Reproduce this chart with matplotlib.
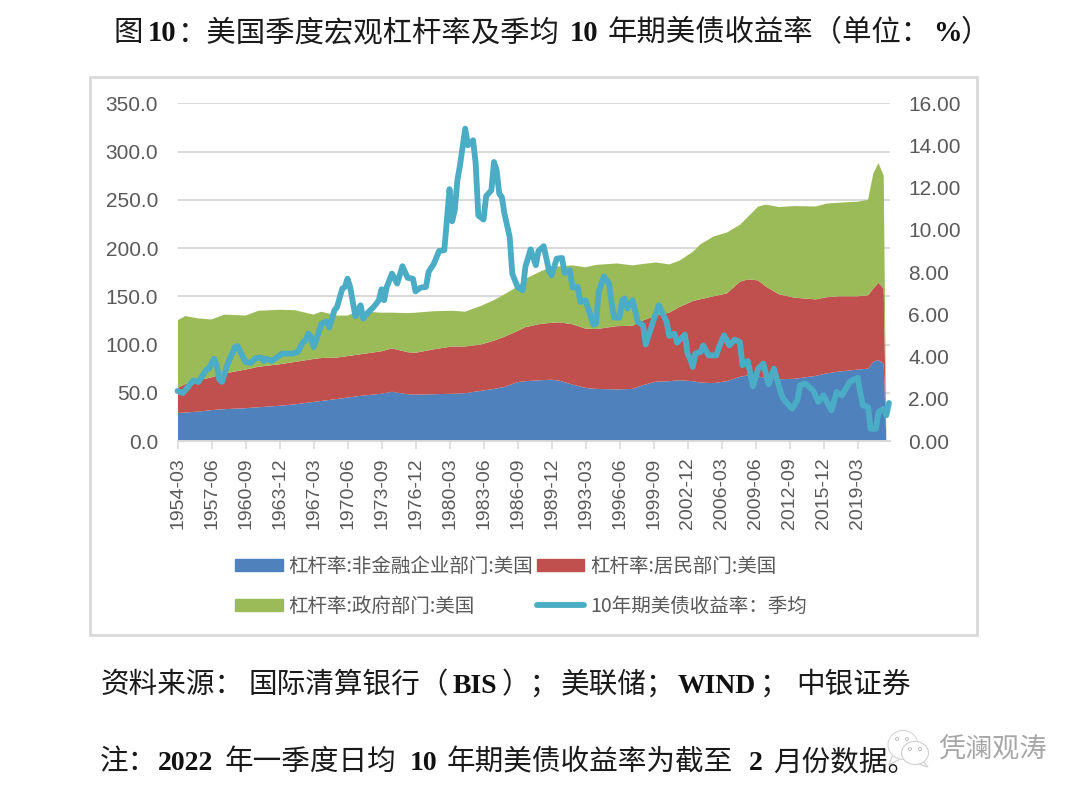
import matplotlib
matplotlib.use('Agg')
import matplotlib.pyplot as plt
from matplotlib.lines import Line2D
from matplotlib.patches import Ellipse, Patch, Polygon, Rectangle

CJK = 'Noto Sans CJK SC'
LATIN = 'Liberation Serif'
TICK_FONT = 'Liberation Sans'
GREY = '#595959'
LIGHT = '#d9d9d9'

# first and last tick plus every 13 quarters in between
tick_labels = ['1954-03', '1957-06', '1960-09', '1963-12', '1967-03', '1970-06', '1973-09',
               '1976-12', '1980-03', '1983-06', '1986-09', '1989-12', '1993-03', '1996-06',
               '1999-09', '2002-12', '2006-03', '2009-06', '2012-09', '2015-12', '2019-03']

# leverage by sector
area_dates = ['1954-03', '1954-12', '1956-03', '1957-06', '1958-09', '1960-09', '1961-12',
              '1963-12', '1965-06', '1967-03', '1967-12', '1969-06', '1970-06', '1971-06',
              '1973-09', '1974-09', '1976-03', '1976-12', '1978-09', '1980-06', '1981-09',
              '1983-03', '1984-06', '1985-06', '1986-09', '1987-06', '1988-12', '1989-12',
              '1990-09', '1991-12', '1993-03', '1994-03', '1996-03', '1997-09', '1998-09',
              '1999-12', '2001-03', '2002-03', '2003-06', '2004-03', '2005-06', '2006-09',
              '2007-12', '2008-09', '2009-09', '2010-06', '2011-09', '2013-03', '2015-03',
              '2016-03', '2017-06', '2019-03', '2020-03', '2020-09', '2021-03', '2021-09',
              '2021-12']
corporate = [29, 29.5, 30.5, 32, 33, 34, 35, 36.5, 38, 40.5, 41.5, 43.5, 45, 46.5, 49, 51,
             48.5, 48, 48.5, 49, 49.5, 52, 54, 56, 61, 62, 63, 63.5, 62.5, 58.5, 55, 54,
             53.5, 54, 58, 61.5, 62, 63, 62, 60.5, 60, 62, 66.5, 68, 67, 65, 64, 64.5,
             67.5, 70, 72, 74, 75, 82, 84, 80, 0]
household = [26, 29.5, 32.5, 34, 37, 40, 42, 43, 44, 44.5, 44.5, 43, 43, 43, 44, 45, 43.5,
             43.5, 46.5, 49, 48.5, 48, 50, 52, 53, 56, 58.5, 59, 60.5, 62.5, 61.5, 62,
             65.5, 65.5, 67, 68.5, 71, 76, 83, 86.5, 90, 91, 98.5, 99.5, 99.5, 95, 88, 84,
             79.3, 79, 78, 76, 76, 76, 80, 78, 0]
government = [70, 70.5, 64, 60, 61, 56, 58, 56.5, 53.5, 46, 48, 43.5, 42, 45, 40, 37, 40.5,
              41.5, 39.5, 37, 36, 40, 42, 44, 46, 50, 54.5, 57.5, 58, 61, 63.5, 66.5, 65,
              62.5, 58.5, 55, 50, 48, 51, 57, 62, 63, 59, 64.5, 76.5, 85, 90.5, 95, 96.2,
              97, 97, 98, 99, 119, 124, 117, 0]

# 10y treasury yield, quarterly average
yield_dates = ['1954-03', '1954-09', '1955-03', '1955-09', '1956-03', '1956-12', '1957-03',
               '1957-09', '1957-12', '1958-03', '1958-06', '1958-12', '1959-03', '1959-09',
               '1959-12', '1960-03', '1960-09', '1961-03', '1961-09', '1962-03', '1962-06',
               '1962-09', '1963-03', '1964-03', '1965-03', '1965-09', '1966-03', '1966-06',
               '1966-09', '1966-12', '1967-03', '1967-06', '1967-12', '1968-06', '1968-09',
               '1969-03', '1969-06', '1969-12', '1970-03', '1970-06', '1970-09', '1971-03',
               '1971-06', '1971-09', '1971-12', '1972-06', '1972-12', '1973-06', '1973-09',
               '1973-12', '1974-03', '1974-09', '1975-03', '1975-09', '1976-03', '1976-09',
               '1976-12', '1977-06', '1977-12', '1978-03', '1978-09', '1979-03', '1979-09',
               '1980-03', '1980-06', '1980-09', '1980-12', '1981-03', '1981-09', '1981-12',
               '1982-06', '1982-09', '1982-12', '1983-06', '1983-09', '1984-03', '1984-06',
               '1984-09', '1984-12', '1985-03', '1985-06', '1985-12', '1986-03', '1986-09',
               '1987-03', '1987-06', '1987-12', '1988-06', '1988-09', '1989-03', '1989-09',
               '1989-12', '1990-06', '1990-12', '1991-03', '1991-09', '1991-12', '1992-06',
               '1992-09', '1993-03', '1993-12', '1994-03', '1994-06', '1994-12', '1995-06',
               '1995-09', '1995-12', '1996-06', '1996-09', '1996-12', '1997-03', '1997-09',
               '1998-03', '1998-09', '1998-12', '1999-09', '2000-03', '2000-12', '2001-03',
               '2001-09', '2001-12', '2002-09', '2002-12', '2003-03', '2003-06', '2003-09',
               '2004-03', '2004-06', '2004-12', '2005-09', '2005-12', '2006-06', '2006-12',
               '2007-06', '2007-12', '2008-03', '2008-09', '2009-03', '2009-09', '2010-03',
               '2010-09', '2011-03', '2011-12', '2012-03', '2012-12', '2013-06', '2013-09',
               '2014-03', '2014-12', '2015-06', '2015-12', '2016-09', '2017-03', '2017-09',
               '2018-06', '2019-03', '2019-09', '2020-03', '2020-06', '2020-12', '2021-03',
               '2021-09', '2021-12', '2022-03']
yield_10y = [2.37, 2.27, 2.56, 2.87, 2.80, 3.38, 3.43, 3.90, 3.59, 2.91, 2.80, 3.59, 3.90,
             4.45, 4.50, 4.22, 3.74, 3.70, 3.93, 3.95, 3.79, 3.90, 3.79, 4.14, 4.14, 4.22,
             4.69, 4.77, 5.09, 4.93, 4.45, 4.77, 5.56, 5.67, 5.37, 6.19, 6.35, 7.22, 7.30,
             7.69, 7.30, 5.91, 6.19, 6.43, 5.80, 6.11, 6.35, 6.67, 7.19, 6.67, 7.30, 7.93,
             7.46, 8.28, 7.73, 7.69, 7.09, 7.27, 7.30, 8.01, 8.40, 9.00, 9.04, 11.93, 10.41,
             10.93, 12.35, 13.06, 14.80, 14.01, 14.25, 13.14, 10.69, 10.49, 11.60, 11.88,
             13.22, 12.83, 11.72, 11.56, 10.77, 9.67, 7.93, 7.30, 7.14, 8.25, 9.08, 8.33,
             9.00, 9.23, 8.09, 7.85, 8.64, 8.67, 7.96, 8.09, 7.27, 7.30, 6.59, 6.67, 5.51,
             5.56, 7.06, 7.80, 7.46, 6.51, 5.85, 5.85, 6.67, 6.75, 6.27, 6.67, 5.64, 5.48,
             4.57, 5.72, 6.43, 5.64, 4.98, 5.09, 4.66, 5.04, 4.14, 3.90, 3.51, 4.14, 4.22,
             4.53, 4.06, 4.06, 4.45, 5.01, 4.53, 4.80, 4.69, 3.59, 3.79, 2.59, 3.43, 3.67,
             2.69, 3.43, 2.16, 1.93, 1.53, 1.93, 2.64, 2.72, 2.40, 1.85, 2.16, 1.45, 2.32,
             2.16, 2.80, 3.00, 1.69, 1.61, 0.58, 0.58, 1.37, 1.53, 1.22, 1.80]

left_ticks = [0, 50, 100, 150, 200, 250, 300, 350]
right_ticks = [0, 2, 4, 6, 8, 10, 12, 14, 16]

series_names = ['杠杆率:非金融企业部门:美国', '杠杆率:居民部门:美国', '杠杆率:政府部门:美国', '10年期美债收益率\uff1a季均']

# (text, bold, left edge in px)
title_runs = [('图', False, 113), ('10', True, 148), ('\uff1a美国季度宏观杠杆率及季均', False, 178),
              ('10', True, 570), ('年期美债收益率\uff08单位\uff1a', False, 608), ('%', True, 933), ('\uff09', False, 961)]
source_runs = [('资料来源\uff1a', False, 101), ('国际清算银行\uff08', False, 249), ('BIS', True, 453), ('\uff09\uff1b', False, 502),
               ('美联储\uff1b', False, 561), ('WIND', True, 678), ('\uff1b', False, 760), ('中银证券', False, 796)]
note_runs = [('注\uff1a', False, 100), ('2022', True, 158), ('年一季度日均', False, 225), ('10', True, 410),
             ('年期美债收益率为截至', False, 447), ('2', True, 749), ('月份数据。', False, 773)]


def quarter_pos(label):
    year, month = label.split('-')
    return (int(year) - 1954) * 4 + (int(month) - 3) / 3


def draw_runs(ax, runs, baseline, size):
    for text, bold, x in runs:
        if bold:
            ax.text(x, baseline, text, family=LATIN, weight='bold', fontsize=size - 0.6,
                    color='#111111', va='baseline', ha='left')
        else:
            ax.text(x, baseline, text, family=CJK, fontsize=size, color='#1a1a1a',
                    va='baseline', ha='left')


W, H = 1080, 798
fig = plt.figure(figsize=(W / 100, H / 100), dpi=100)

# full figure overlay in pixel coordinates for frame and captions
page = fig.add_axes([0, 0, 1, 1], zorder=0)
page.set_xlim(0, W)
page.set_ylim(H, 0)
page.axis('off')
page.add_patch(Rectangle((90, 77), 887, 558, facecolor='white', edgecolor=LIGHT, linewidth=2.0))

left, right, top, bottom = 177.5, 890, 103.3, 441
ax = fig.add_axes([left / W, 1 - bottom / H, (right - left) / W, (bottom - top) / H], zorder=1)
ax.patch.set_alpha(0)

area_x = [quarter_pos(d) for d in area_dates]
stack = ax.stackplot(area_x, corporate, household, government,
                     colors=['#4f81bd', '#c0504d', '#9bbb59'], zorder=2)
ax.set_xlim(0, 272.4)
ax.set_ylim(0, 350)
ax.set_yticks(left_ticks)
ax.set_yticklabels([f'{v:.1f}' for v in left_ticks], family=TICK_FONT, fontsize=15, color=GREY)
ax.set_xticks([quarter_pos(t) for t in tick_labels])
ax.set_xticklabels(tick_labels, rotation=90, family=TICK_FONT, fontsize=14, color=GREY)
ax.tick_params(axis='y', length=0, pad=14)
ax.tick_params(axis='x', length=6, width=1.2, color=LIGHT, pad=6)
ax.grid(axis='y', color=LIGHT, linewidth=1.4)
ax.set_axisbelow(True)
for side in ('top', 'left', 'right'):
    ax.spines[side].set_visible(False)
ax.spines['bottom'].set_color(LIGHT)
ax.spines['bottom'].set_linewidth(1.4)

ax2 = ax.twinx()
ax2.set_zorder(2)
ax2.plot([quarter_pos(d) for d in yield_dates], yield_10y, color='#4bacc6', linewidth=4.2,
         solid_joinstyle='round', solid_capstyle='round', clip_on=False)
ax2.set_xlim(0, 272.4)
ax2.set_ylim(0, 16)
ax2.set_yticks(right_ticks)
ax2.set_yticklabels([f'{v:.2f}' for v in right_ticks], family=TICK_FONT, fontsize=15, color=GREY)
ax2.tick_params(axis='y', length=0, pad=13)
for side in ax2.spines:
    ax2.spines[side].set_visible(False)

# legend fills columns first
handles = [Patch(color='#4f81bd'), Patch(color='#9bbb59'), Patch(color='#c0504d'),
           Line2D([], [], color='#4bacc6', linewidth=4.2, solid_capstyle='round')]
labels = [series_names[0], series_names[2], series_names[1], series_names[3]]
fig.legend(handles, labels, ncol=2, frameon=False, loc='upper left',
           bbox_to_anchor=(235 / W, 1 - 556 / H), borderpad=0, borderaxespad=0,
           prop={'family': CJK, 'size': 14.05}, labelcolor=GREY, handlelength=2.44,
           handleheight=0.6, handletextpad=0.28, columnspacing=0.2, labelspacing=0.96)

# captions on top of everything
caption = fig.add_axes([0, 0, 1, 1], zorder=3)
caption.set_xlim(0, W)
caption.set_ylim(H, 0)
caption.axis('off')
caption.patch.set_alpha(0)
draw_runs(caption, title_runs, 41, 21.2)
draw_runs(caption, source_runs, 693, 20.6)
draw_runs(caption, note_runs, 770, 20.6)

# watermark
bubble = '#cfcfcf'
caption.add_patch(Polygon([(893, 754), (889, 765), (900, 759)], facecolor='white', edgecolor=bubble, linewidth=0.8))
caption.add_patch(Ellipse((903, 745), 30, 29, facecolor='white', edgecolor=bubble, linewidth=0.8, alpha=0.85))
caption.add_patch(Polygon([(922, 760), (928, 767), (916, 763)], facecolor='white', edgecolor=bubble, linewidth=0.8))
caption.add_patch(Ellipse((915, 753), 27, 23, facecolor='white', edgecolor=bubble, linewidth=0.8))
for ex, ey in [(897, 739), (907, 739), (910, 749), (920, 749)]:
    caption.add_patch(Ellipse((ex, ey), 3, 3, facecolor='white', edgecolor='#b5b5b5', linewidth=0.6))
caption.text(938, 750, '凭澜观涛', family=CJK, fontsize=19.5, color='#a6a6a6', va='center', ha='left')

fig.savefig('out.png', dpi=100)
plt.close(fig)
